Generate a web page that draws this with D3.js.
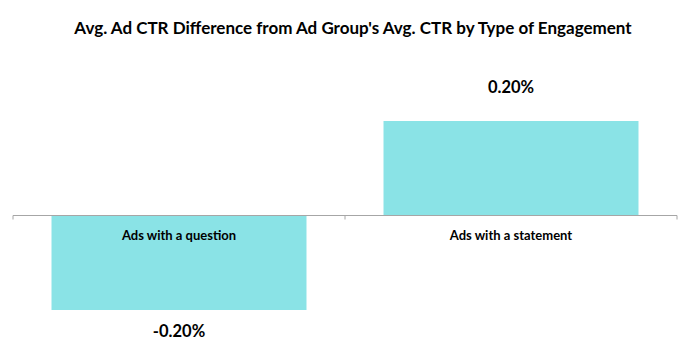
<!DOCTYPE html>
<html>
<head>
<meta charset="utf-8">
<script src="https://cdn.jsdelivr.net/npm/d3@7"></script>
<style>
  body { margin: 0; background: #fff; }
  text { font-family: Lato, 'Open Sans', sans-serif; fill: #000; }
</style>
</head>
<body>
<div id="chart"></div>
<script>
const categories = ['Ads with a question', 'Ads with a statement'];
const values = [-0.002, 0.002];
const valueLabels = ['-0.20%', '0.20%'];
const title = "Avg. Ad CTR Difference from Ad Group's Avg. CTR by Type of Engagement";

const W = 691;
const H = 361;
const margin = {
  top: 121, right: 14, bottom: 51, left: 13,
};

const svg = d3.select('#chart').append('svg')
  .attr('width', W)
  .attr('height', H);

const xScale = d3.scaleBand()
  .domain(categories)
  .range([margin.left, W - margin.right])
  .paddingInner(0.232)
  .paddingOuter(0.116);

const yScale = d3.scaleLinear()
  .domain([-0.002, 0.002])
  .range([H - margin.bottom, margin.top]);

svg.append('text')
  .attr('x', 353)
  .attr('y', 34)
  .attr('text-anchor', 'middle')
  .style('font-size', '17px')
  .style('font-weight', 'bold')
  .text(title);

// bars
svg.selectAll('.bar')
  .data(values)
  .enter().append('rect')
  .attr('class', 'bar')
  .attr('x', (d, i) => xScale(categories[i]))
  .attr('width', xScale.bandwidth())
  .attr('y', d => yScale(Math.max(0, d)))
  .attr('height', d => Math.abs(yScale(d) - yScale(0)))
  .attr('fill', '#8ae3e6');

// zero axis with ticks at band edges
const y0 = yScale(0);
const edges = [xScale.range()[0]].concat(categories.map(c => xScale(c) - xScale.step() * xScale.paddingInner() / 2 + xScale.step()));
svg.append('line')
  .attr('x1', xScale.range()[0])
  .attr('x2', xScale.range()[1])
  .attr('y1', y0)
  .attr('y2', y0)
  .attr('stroke', '#a6a6a6');

svg.selectAll('.tick-mark')
  .data(edges)
  .enter().append('line')
  .attr('class', 'tick-mark')
  .attr('x1', d => d)
  .attr('x2', d => d)
  .attr('y1', y0)
  .attr('y2', y0 + 4)
  .attr('stroke', '#a6a6a6');

svg.selectAll('.cat-label')
  .data(categories)
  .enter().append('text')
  .attr('class', 'cat-label')
  .attr('x', d => xScale(d) + xScale.bandwidth() / 2)
  .attr('y', y0 + 24)
  .attr('text-anchor', 'middle')
  .style('font-size', '13px')
  .style('font-weight', 'bold')
  .text(d => d);

svg.selectAll('.val-label')
  .data(values)
  .enter().append('text')
  .attr('class', 'val-label')
  .attr('x', (d, i) => xScale(categories[i]) + xScale.bandwidth() / 2)
  .attr('y', d => (d >= 0 ? yScale(d) - 28 : yScale(d) + 27))
  .attr('text-anchor', 'middle')
  .style('font-size', '16.5px')
  .style('font-weight', 'bold')
  .text((d, i) => valueLabels[i]);
</script>
</body>
</html>
